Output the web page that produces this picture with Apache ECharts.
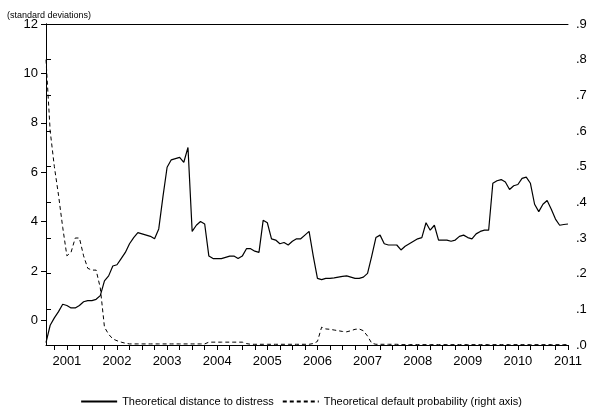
<!DOCTYPE html>
<html><head><meta charset="utf-8">
<script src="https://cdn.jsdelivr.net/npm/echarts@6/dist/echarts.min.js"></script>
<style>html,body{margin:0;padding:0;background:#fff}#c{width:602px;height:416px}</style>
</head><body><div id="c"></div>
<script>
// monthly, Aug 2000 .. Jan 2011
const months = [];
for (let y = 2000, m = 8; months.length < 126; ) { months.push(y + '-' + (m < 10 ? '0' + m : m)); m++; if (m > 12) { m = 1; y++; } }
const distance = [
-0.9,-0.2,0.1,0.35,0.65,0.6,0.5,0.5,0.6,0.75,0.8,0.8,0.85,1.0,1.6,1.8,
2.2,2.25,2.5,2.75,3.1,3.35,3.55,3.5,3.45,3.4,3.3,3.7,5.0,6.2,6.5,6.55,6.6,6.4,7.0,3.6,
3.85,4.0,3.9,2.6,2.5,2.5,2.5,2.55,2.6,2.6,2.5,2.6,2.9,2.9,2.8,2.75,4.05,3.95,3.3,3.25,
3.1,3.15,3.05,3.2,3.3,3.3,3.45,3.6,2.6,1.7,1.65,1.7,1.7,1.72,1.75,1.78,1.8,1.75,1.7,1.7,
1.75,1.9,2.6,3.35,3.45,3.1,3.05,3.05,3.05,2.85,3.0,3.1,3.2,3.3,3.35,3.95,3.65,3.85,3.25,3.25,
3.25,3.2,3.25,3.4,3.45,3.35,3.3,3.5,3.6,3.65,3.65,5.55,5.65,5.7,5.6,5.3,5.45,5.5,5.75,5.8,
5.55,4.7,4.4,4.7,4.85,4.5,4.1,3.85,3.88,3.9];
const defaultProb = [
0.80,0.60,0.50,0.42,0.33,0.25,0.26,0.30,0.30,0.25,0.215,0.21,0.21,0.16,0.05,0.03,
0.017,0.012,0.008,0.005,0.003,0.003,0.003,0.003,0.003,0.003,0.003,0.003,0.003,0.003,0.003,0.003,0.003,0.003,0.003,0.003,
0.003,0.003,0.003,0.008,0.008,0.008,0.008,0.008,0.008,0.008,0.008,0.008,0.004,0.002,0.002,0.002,0.002,0.002,0.002,0.002,
0.002,0.002,0.002,0.002,0.002,0.002,0.002,0.002,0.004,0.01,0.05,0.045,0.044,0.042,0.040,0.038,0.037,0.04,0.044,0.045,
0.04,0.025,0.005,0.002,0.002,0.002,0.002,0.002,0.002,0.001,0.001,0.001,0.001,0.001,0.001,0.001,0.001,0.001,0.001,0.001,
0.001,0.001,0.001,0.001,0.001,0.001,0.001,0.001,0.001,0.001,0.001,0.001,0.001,0.001,0.001,0.001,0.001,0.001,0.001,0.001,
0.001,0.001,0.001,0.001,0.001,0.001,0.001,0.001,0.001,0.001];
const leftTicks = [0,2,4,6,8,10,12];
const F = 'Liberation Sans, Arial, sans-serif';
const idx = months.map((m,i)=>i);
const quarterIdx = idx.filter(i => ((+months[i].slice(5)) - 1) % 3 === 0);
const janIdx = idx.filter(i => months[i].slice(5) === '01');
const chart = echarts.init(document.getElementById('c'));
chart.setOption({
  animation:false,
  title:{text:'(standard deviations)',left:2,top:6,textStyle:{fontSize:9,fontWeight:'normal',color:'#000',fontFamily:F}},
  grid:{left:46,right:34,top:24,bottom:71},
  legend:{bottom:4,left:'center',itemWidth:36,itemHeight:10,itemGap:8,itemStyle:{opacity:0},
    data:['Theoretical distance to distress','Theoretical default probability (right axis)'],
    textStyle:{fontSize:11,color:'#000',fontFamily:F}},
  xAxis:[{type:'value',position:'bottom',min:0,max:months.length-1,splitLine:{show:false},
    axisLine:{show:true,lineStyle:{color:'#000',width:1}},
    axisTick:{show:true,length:5,lineStyle:{color:'#000'},customValues:quarterIdx},
    axisLabel:{color:'#000',fontSize:13,fontFamily:F,margin:10,customValues:janIdx,formatter:v=>months[v].slice(0,4)}},
    {type:'value',position:'top',min:0,max:months.length-1,splitLine:{show:false},axisLine:{show:true,onZero:false,lineStyle:{color:'#000',width:1}},axisTick:{show:false},axisLabel:{show:false}}],
  yAxis:[
    {type:'value',min:0,max:0.9,interval:0.1,position:'right',splitLine:{show:false},axisLine:{show:true,lineStyle:{color:'#000'}},
    axisTick:{show:true,length:5,lineStyle:{color:'#000'}},
    axisLabel:{color:'#000',fontSize:13,fontFamily:F,formatter:v=>'.'+Math.round(v*10)}},
    {type:'value',min:-1,max:12,position:'left',splitLine:{show:false},axisLine:{show:true,lineStyle:{color:'#000'}},
    axisTick:{show:true,length:5,lineStyle:{color:'#000'},customValues:leftTicks},
    axisLabel:{color:'#000',fontSize:13,fontFamily:F,customValues:leftTicks}}],
  series:[
    {name:'Theoretical distance to distress',type:'line',data:distance.map((v,i)=>[i,v]),yAxisIndex:1,showSymbol:false,symbol:'none',lineStyle:{color:'#000',width:1.2},itemStyle:{color:'#000'}},
    {name:'Theoretical default probability (right axis)',type:'line',data:defaultProb.map((v,i)=>[i,v]),yAxisIndex:0,showSymbol:false,symbol:'none',lineStyle:{color:'#000',width:1,type:[4,3]},itemStyle:{color:'#000'}}
  ]
});
</script></body></html>
